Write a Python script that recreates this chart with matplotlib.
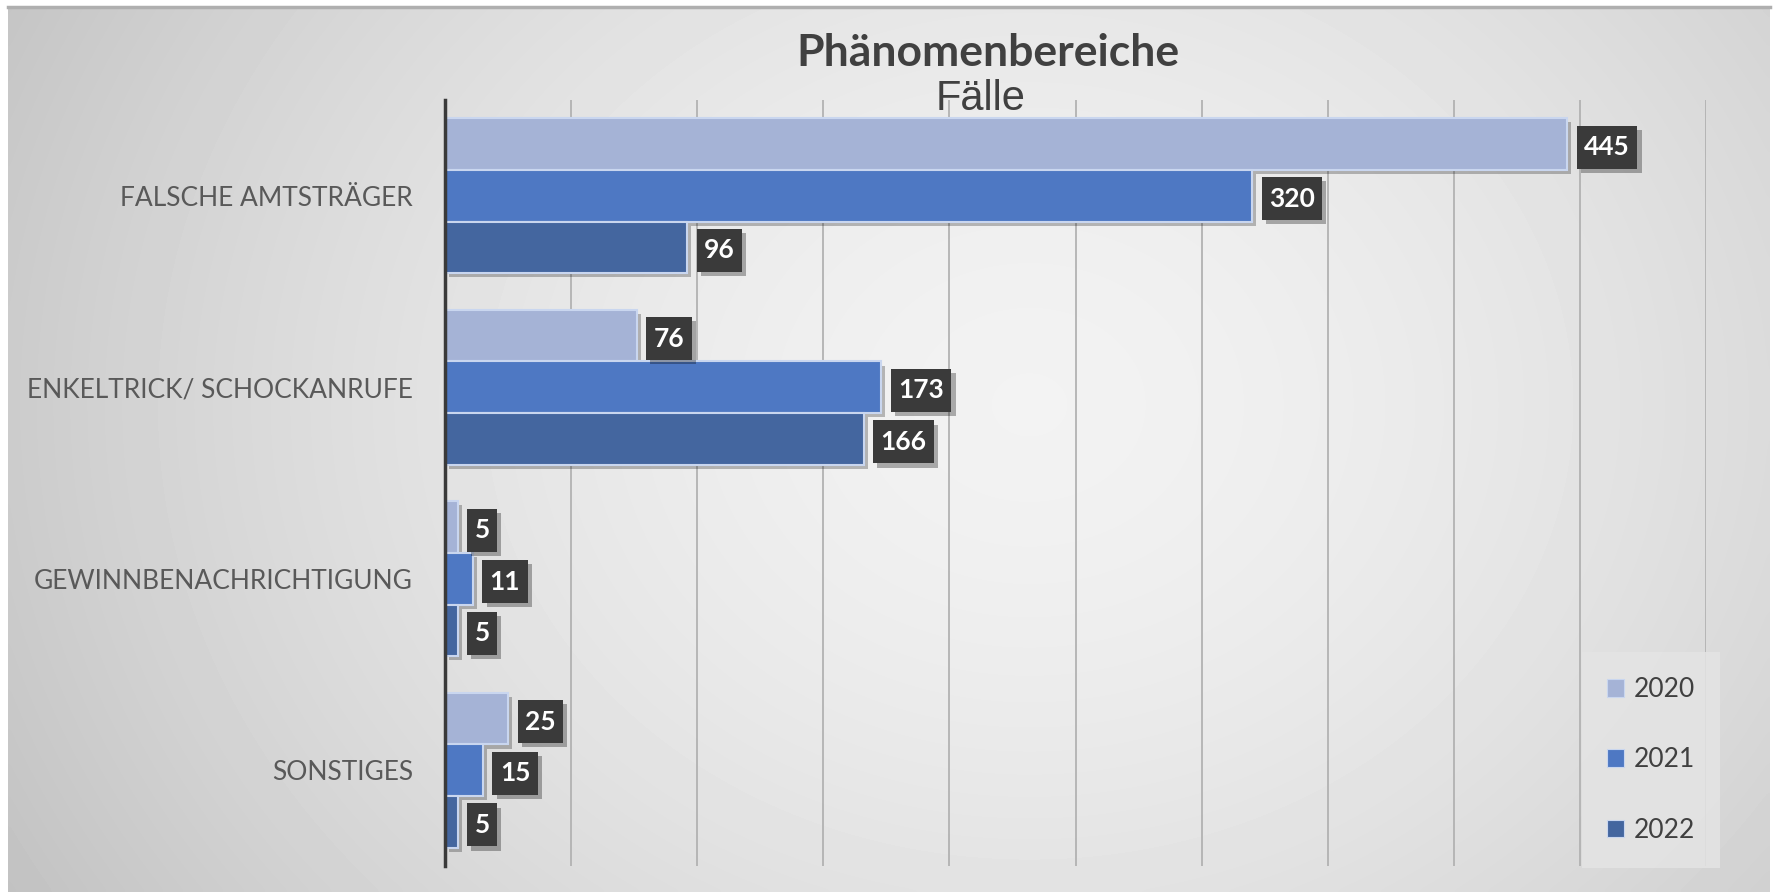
import numpy as np
import matplotlib.pyplot as plt
import matplotlib.patheffects as pe
from matplotlib.patches import Patch
from matplotlib.path import Path

categories = ["FALSCHE AMTSTRÄGER", "ENKELTRICK/ SCHOCKANRUFE",
              "GEWINNBENACHRICHTIGUNG", "SONSTIGES"]
years = ["2020", "2021", "2022"]
values_2020 = [445, 76, 5, 25]
values_2021 = [320, 173, 11, 15]
values_2022 = [96, 166, 5, 5]
colors = ["#A5B3D6", "#4E78C3", "#44669F"]

W, H = 1779, 896


def label_box(x0, y0, width, height, mutation_size):
    # rectangle with more padding top/bottom than left/right
    hp, vp = 0.28 * mutation_size, 0.36 * mutation_size
    x0, x1 = x0 - hp, x0 + width + hp
    y0, y1 = y0 - vp, y0 + height + vp
    return Path([(x0, y0), (x1, y0), (x1, y1), (x0, y1), (x0, y0)], closed=True)


fig = plt.figure(figsize=(W / 100, H / 100), dpi=100)
fig.patch.set_facecolor("white")

# background panel with soft radial gradient
bg = fig.add_axes([8 / W, 4 / H, (1770 - 8) / W, (892 - 7) / H])
xx, yy = np.meshgrid(np.linspace(0, 1, 400), np.linspace(0, 1, 200))
dist = np.sqrt(((xx - 0.58) / 0.6) ** 2 + ((yy - 0.45) / 1.0) ** 2)
shade = np.clip(0.95 - 0.16 * dist ** 1.6, 0.76, 1)
bg.imshow(shade, cmap="gray", vmin=0, vmax=1, aspect="auto",
          extent=[0, 1, 0, 1], origin="upper", interpolation="bicubic")
bg.set_axis_off()
bg.plot([0, 1], [1, 1], color="#AFAFAF", lw=2.5, transform=bg.transAxes, clip_on=False)

ax = fig.add_axes([445 / W, 30 / H, (1706 - 445) / W, 766 / H])
ax.set_facecolor("none")

y = np.arange(len(categories))
h = 0.27
shadow = [pe.SimplePatchShadow(offset=(3, -3), shadow_rgbFace="black", alpha=0.25), pe.Normal()]
series = [values_2020, values_2021, values_2022]
for i, (vals, col, yr) in enumerate(zip(series, colors, years)):
    ypos = y + (i - 1) * h
    bars = ax.barh(ypos, vals, height=h, color=col, edgecolor="#C9D6EF",
                   linewidth=1.5, label=yr, zorder=3)
    for b in bars:
        b.set_path_effects(shadow)
    for v, yp in zip(vals, ypos):
        t = ax.annotate(str(v), (v, yp), xytext=(17, -3), textcoords="offset pixels",
                        ha="left", va="center", color="white", fontsize=19,
                        fontweight="bold", family="Lato", zorder=5,
                        bbox=dict(boxstyle=label_box, fc="#3A3A3A", ec="none"))
        t.get_bbox_patch().set_path_effects(
            [pe.SimplePatchShadow(offset=(3, -3), shadow_rgbFace="black", alpha=0.3), pe.Normal()])

ax.set_xlim(0, 500)
ax.set_ylim(len(categories) - 0.5, -0.5)
ax.set_xticks(np.arange(0, 501, 50))
ax.set_xticklabels([])
ax.tick_params(axis="x", length=0)
ax.grid(axis="x", color="#B2B2B2", lw=1.3, zorder=0)
ax.set_axisbelow(True)
ax.set_yticks(y)
ax.set_yticklabels(categories, family="Lato", fontsize=19, color="#595959")
ax.tick_params(axis="y", length=0, pad=23)
for s in ["top", "right", "bottom"]:
    ax.spines[s].set_visible(False)
ax.spines["left"].set_color("#3A3A3A")
ax.spines["left"].set_linewidth(2.5)
ax.spines["left"].set_zorder(6)

fig.text(988 / W, 1 - 53 / H, "Phänomenbereiche", ha="center", va="center",
         family="Lato", fontweight="bold", fontsize=32, color="#404040")
fig.text(981 / W, 1 - 99 / H, "Fälle", ha="center", va="center",
         family="Liberation Sans", fontsize=30, color="#404040")

handles = [Patch(facecolor=c, edgecolor="#C9D6EF", lw=0.8) for c in colors]
leg = fig.legend(handles, years, loc="upper left",
                 bbox_to_anchor=(1582 / W, 1 - 652 / H), bbox_transform=fig.transFigure,
                 prop={"family": "Lato", "size": 19}, labelcolor="#404040",
                 handlelength=0.65, handleheight=0.65, handletextpad=0.35,
                 labelspacing=1.72, borderpad=0.95, borderaxespad=0, fancybox=False,
                 facecolor="#E4E4E4", edgecolor="none", framealpha=0.85)

fig.savefig("out.png", dpi=100)
